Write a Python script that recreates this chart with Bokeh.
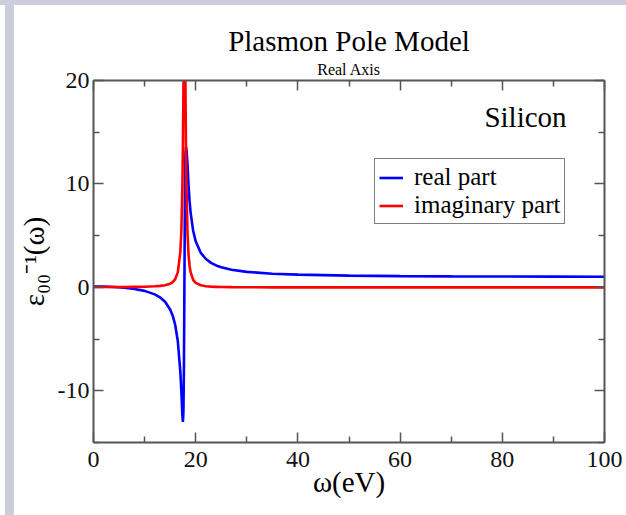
from bokeh.plotting import figure
from bokeh.models import (Range1d, FixedTicker, LinearAxis, Label, Legend, LegendItem,
                          CustomJSTickFormatter, Div, Title)
from bokeh.layouts import column, row
from bokeh.embed import file_html
from bokeh.resources import INLINE

# ---------------- data ----------------
omega = [0, 2, 4, 6, 8, 10, 12, 13, 14, 15, 15.5, 16, 16.5, 17, 17.2, 17.4, 17.5,
         17.6, 17.7, 17.8, 17.9, 18.0, 18.1, 18.2, 18.4, 18.6, 18.8, 19, 19.5, 20,
         21, 22, 23, 24, 25, 27, 30, 35, 40, 50, 60, 70, 80, 90, 100]
real_part = [0.08, 0.07, 0.03, -0.04, -0.15, -0.34, -0.68, -0.96, -1.40, -2.14, -2.74,
             -3.66, -5.21, -8.20, -10.16, -12.41, -13.0, -12.0, -7.49, 1.1, 9.7, 12.9,
             13.6, 13.3, 11.9, 9.87, 8.36, 7.25, 5.47, 4.45, 3.33, 2.74, 2.37, 2.12,
             1.95, 1.71, 1.50, 1.32, 1.23, 1.13, 1.09, 1.06, 1.05, 1.04, 1.03]
imag_part = [0.03, 0.03, 0.03, 0.04, 0.05, 0.06, 0.10, 0.14, 0.21, 0.36, 0.51, 0.80,
             1.45, 3.44, 5.54, 9.93, 13.81, 19.21, 25.16, 28.0, 25.0, 18.95, 13.47,
             9.57, 5.21, 3.16, 2.09, 1.47, 0.73, 0.43, 0.20, 0.11, 0.07, 0.05, 0.03,
             0.02, 0.01, 0.0, 0.0, 0.0, 0.0, 0.0, 0.0, 0.0, 0.0]
x_major = [0, 20, 40, 60, 80, 100]
x_minor = [10, 30, 50, 70, 90]
y_major = [-10, 0, 10, 20]
y_minor = [-15, -5, 5, 15]
series_labels = ["real part", "imaginary part"]
title_text = "Plasmon Pole Model"
subtitle_text = "Real Axis"
x_title = "\u03c9(eV)"
y_title = "\u03b5\u2080\u2080\u207b\u00b9(\u03c9)"
annotation_text = "Silicon"

# ---------------- layout geometry ----------------
FONT = "Liberation Serif"
X0, X1, Y0, Y1 = 0, 100, -15, 20
FL, FR, FT, FB = 92, 604, 80, 442      # frame edges on the page
OFF_X, OFF_Y = 14, 5                    # figure offset on the page
W, H = 626 - OFF_X, 515 - OFF_Y
AX = "#555555"


def dx(px):
    return X0 + (px - FL) * (X1 - X0) / (FR - FL)


def dy(py):
    return Y1 - (py - FT) * (Y1 - Y0) / (FB - FT)


p = figure(width=W, height=H, x_range=Range1d(X0, X1), y_range=Range1d(Y0, Y1),
           output_backend="svg", toolbar_location=None,
           min_border_left=FL - OFF_X, min_border_right=W - (FR - OFF_X),
           min_border_top=FT - OFF_Y, min_border_bottom=H - (FB - OFF_Y))
p.xgrid.visible = False
p.ygrid.visible = False
p.outline_line_color = None
p.background_fill_color = "white"
p.border_fill_color = "white"

p.add_layout(LinearAxis(), "above")
p.add_layout(LinearAxis(), "right")


def style(ax, major, minor, labels):
    ax.ticker = FixedTicker(ticks=major, minor_ticks=minor)
    ax.axis_line_color = AX
    ax.axis_line_width = 2
    ax.major_tick_line_color = AX
    ax.major_tick_line_width = 1.5
    ax.minor_tick_line_color = AX
    ax.minor_tick_line_width = 1.5
    ax.major_tick_in = 10
    ax.major_tick_out = 0
    ax.minor_tick_in = 6
    ax.minor_tick_out = 0
    ax.major_label_text_font = FONT
    ax.major_label_text_font_size = "24px"
    ax.major_label_text_color = "#111111"
    if labels:
        ax.formatter = CustomJSTickFormatter(code="return tick.toFixed(0)")
    else:
        ax.formatter = CustomJSTickFormatter(code="return ''")
        ax.major_label_standoff = 0


style(p.below[0], x_major, x_minor, True)
style(p.above[0], x_major, x_minor, False)
style(p.left[0], y_major, y_minor, True)
style(p.right[0], y_major, y_minor, False)
p.below[0].major_label_standoff = 9
p.left[0].major_label_standoff = 4

for ax, txt, so in ((p.below[0], x_title, -4), (p.left[0], y_title, 5)):
    ax.axis_label = txt
    ax.axis_label_text_font = FONT
    ax.axis_label_text_font_size = "29px"
    ax.axis_label_text_font_style = "normal"
    ax.axis_label_text_color = "black"
    ax.axis_label_standoff = so

r_real = p.line(omega, real_part, line_color="#0000ff", line_width=2.6)
r_imag = p.line(omega, imag_part, line_color="#ff0000", line_width=2.6)

legend = Legend(items=[LegendItem(label=series_labels[0], renderers=[r_real]),
                       LegendItem(label=series_labels[1], renderers=[r_imag])],
                location=(373 - FL, FB - 224), margin=0, padding=4, spacing=0,
                glyph_width=24, glyph_height=25, label_height=25, label_standoff=11,
                label_text_font=FONT, label_text_font_size="25px",
                label_text_color="black",
                border_line_color="black", border_line_width=1,
                background_fill_color="white", background_fill_alpha=1)
p.add_layout(legend)

p.add_layout(Label(x=dx(566), y=dy(116), text=annotation_text, text_font=FONT,
                   text_font_size="29px", text_align="right",
                   text_baseline="alphabetic", text_color="black"))

# titles (subtitle nearest the frame, main title outermost)
p.add_layout(Title(text=subtitle_text, align="center", text_font=FONT,
                   text_font_size="16px", text_font_style="normal",
                   text_color="black", standoff=5), "above")
p.title.text = title_text
p.title.align = "center"
p.title.text_font = FONT
p.title.text_font_size = "29px"
p.title.text_font_style = "normal"
p.title.text_color = "black"
p.title.standoff = 0

LAV = "#cdcedc"
top_band = Div(width=626, height=OFF_Y, margin=0, styles={"background-color": LAV})
gap = Div(width=5, height=H, margin=0, styles={"background-color": "white"})
bar = Div(width=OFF_X - 5, height=H, margin=0, styles={"background-color": LAV})
page = column(top_band, row(gap, bar, p, spacing=0), spacing=0)

open("out.html", "w").write(file_html(page, INLINE))
